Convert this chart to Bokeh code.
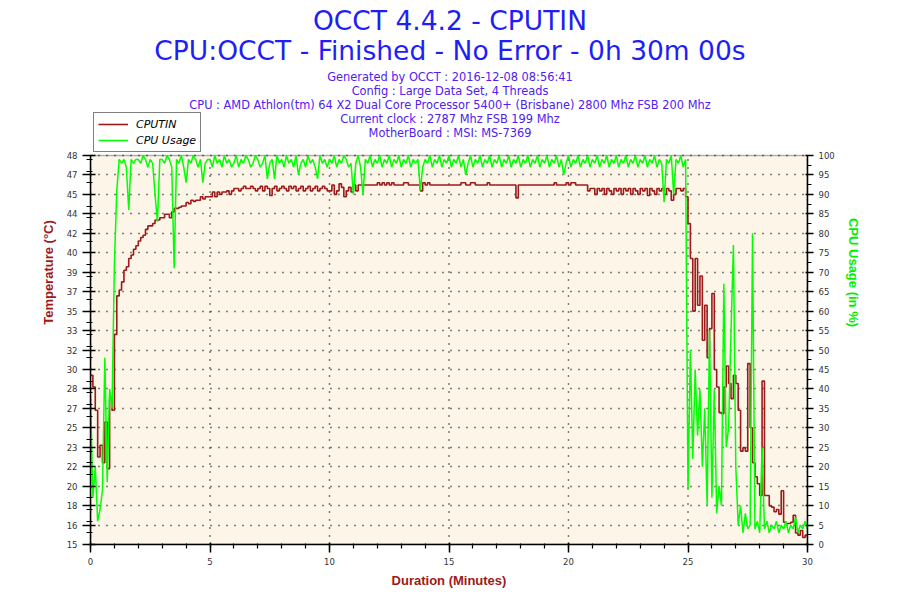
from bokeh.plotting import figure
from bokeh.models import (LinearAxis, Range1d, FixedTicker, Legend, LegendItem,
                          Label, BoxAnnotation)
from bokeh.embed import file_html
from bokeh.resources import INLINE

# ---------------- data ----------------
title_lines = ["OCCT 4.4.2 - CPUTIN",
               "CPU:OCCT - Finished - No Error - 0h 30m 00s"]
info_lines = ["Generated by OCCT : 2016-12-08 08:56:41",
              "Config : Large Data Set, 4 Threads",
              "CPU : AMD Athlon(tm) 64 X2 Dual Core Processor 5400+ (Brisbane) 2800 Mhz FSB 200 Mhz",
              "Current clock : 2787 Mhz FSB 199 Mhz",
              "MotherBoard : MSI: MS-7369"]

sample_step = 0.1  # minutes between samples
minutes = [round(i * sample_step, 1) for i in range(301)]

cputin = [
    29.5, 28.5, 26.5, 22.5, 23.5, 22.0, 25.5, 21.5, 27.5, 26.5,
    33.0, 36.3, 36.8, 37.5, 38.5, 38.8, 39.5, 39.8, 40.3, 40.6,
    41.0, 41.3, 41.5, 42.0, 42.3, 42.3, 42.5, 42.8, 42.8, 43.0,
    43.0, 43.3, 43.3, 43.0, 43.5, 43.8, 43.8, 43.9, 44.0, 44.0,
    44.3, 44.2, 44.5, 44.4, 44.5, 44.5, 44.8, 44.6, 44.8, 44.8,
    44.8, 45.2, 44.8, 45.2, 45.0, 45.2, 45.2, 45.3, 45.0, 45.3,
    45.5, 45.5, 45.3, 45.5, 45.7, 45.5, 45.5, 45.7, 45.5, 45.3,
    45.5, 45.7, 45.3, 45.7, 45.5, 44.9, 45.5, 45.7, 45.3, 45.5,
    45.7, 45.5, 45.3, 45.7, 45.5, 45.7, 45.3, 45.5, 45.7, 45.3,
    45.5, 45.7, 45.3, 45.5, 45.7, 45.3, 45.5, 45.7, 45.5, 45.3,
    45.3, 45.8, 45.0, 45.3, 45.9, 45.6, 44.8, 45.3, 45.6, 45.2,
    45.8, 45.3, 45.8, 45.8, 45.8, 45.8, 45.8, 45.8, 45.8, 45.8,
    46.0, 45.8, 46.0, 45.8, 46.0, 45.8, 46.0, 45.8, 45.8, 45.8,
    45.8, 46.0, 46.0, 45.8, 45.8, 45.8, 45.8, 45.8, 45.3, 46.0,
    45.8, 46.0, 45.8, 45.8, 45.8, 45.8, 45.8, 45.8, 45.8, 45.8,
    45.8, 45.8, 45.8, 45.8, 45.8, 46.0, 46.0, 45.8, 45.8, 46.0,
    46.0, 45.8, 45.8, 45.8, 45.8, 45.8, 46.0, 45.8, 45.8, 45.8,
    45.8, 45.8, 45.8, 45.8, 45.8, 45.8, 45.8, 45.8, 44.7, 45.8,
    45.8, 45.8, 45.8, 45.8, 45.8, 45.8, 45.8, 45.8, 45.8, 45.8,
    45.8, 45.8, 45.8, 45.8, 46.0, 45.8, 45.8, 45.8, 45.8, 46.0,
    45.8, 46.0, 46.0, 45.8, 45.8, 45.8, 45.8, 45.8, 45.3, 45.5,
    45.5, 45.0, 45.5, 45.3, 45.5, 45.0, 45.5, 45.3, 45.0, 45.5,
    45.3, 45.5, 45.0, 45.5, 45.3, 45.5, 45.0, 45.5, 45.3, 45.0,
    45.5, 45.3, 45.5, 44.9, 45.5, 45.3, 45.0, 45.5, 45.3, 45.5,
    45.0, 45.5, 45.3, 44.5, 45.0, 45.5, 45.5, 45.3, 45.5, 44.8,
    42.5, 39.5, 35.0, 39.5, 35.5, 38.0, 32.5, 35.5, 31.0, 33.5,
    36.5, 30.0, 28.5, 26.3, 26.2, 28.5, 30.3, 28.8, 27.5, 29.5,
    28.8, 26.5, 23.0, 23.3, 23.0, 30.5, 25.0, 22.0, 20.8, 20.2,
    19.2, 29.0, 19.2, 19.2, 18.3, 18.2, 17.8, 18.0, 17.6, 19.6,
    16.9, 16.8, 16.8, 16.9, 17.5, 16.0, 15.8, 16.2, 15.6, 15.8,
    15.6,
]

cpu_usage = [
    38, 12, 20, 6, 9, 14, 48, 16, 40, 35,
    72, 91, 99, 98, 99, 97, 86, 99, 98, 99,
    99, 98, 100, 99, 97, 99, 98, 90, 83, 99,
    99, 98, 100, 99, 97, 71, 99, 98, 100, 97,
    93, 99, 98, 100, 99, 97, 99, 93, 98, 99,
    99, 97, 100, 98, 99, 97, 100, 98, 99, 97,
    98, 100, 97, 99, 98, 100, 99, 97, 98, 100,
    99, 97, 98, 100, 94, 98, 99, 94, 100, 98,
    99, 97, 100, 98, 99, 97, 100, 95, 98, 99,
    97, 100, 98, 99, 97, 94, 100, 98, 99, 97,
    99, 98, 100, 97, 99, 98, 100, 99, 97, 98,
    90, 98, 100, 97, 90, 99, 98, 100, 97, 99,
    98, 100, 97, 99, 98, 100, 97, 99, 98, 100,
    97, 99, 98, 100, 97, 99, 98, 99, 91, 97,
    99, 98, 100, 97, 99, 98, 100, 97, 99, 98,
    100, 97, 99, 98, 100, 97, 99, 95, 98, 100,
    97, 99, 98, 100, 97, 99, 98, 100, 97, 99,
    98, 100, 97, 99, 98, 100, 97, 99, 98, 100,
    97, 99, 98, 100, 97, 99, 98, 100, 97, 99,
    98, 100, 97, 99, 98, 100, 97, 99, 95, 98,
    100, 97, 99, 98, 100, 97, 99, 98, 100, 97,
    99, 98, 100, 97, 99, 98, 100, 97, 99, 98,
    100, 97, 99, 98, 100, 97, 99, 98, 100, 97,
    99, 98, 100, 97, 99, 98, 100, 97, 99, 98,
    88, 99, 98, 100, 90, 99, 98, 100, 97, 99,
    14, 50, 22, 45, 28, 40, 20, 35, 10, 55,
    12, 40, 8, 15, 10, 67, 25, 30, 55, 77,
    20, 5, 10, 3, 8, 4, 5, 80, 4, 6,
    3, 25, 4, 6, 3, 5, 4, 6, 3, 5,
    4, 6, 3, 5, 4, 7, 3, 5, 4, 6,
    4,
]

x_ticks = [0, 5, 10, 15, 20, 25, 30]
x_minor = list(range(0, 31))
cpu_min, cpu_max = 0, 100
cpu_ticks = list(range(0, 101, 5))
cpu_minor = [v / 2 for v in range(0, 201, 5)]
temp_min, temp_max = 15.0, 48.33
temp_labels = ["15", "16", "18", "20", "22", "23", "25", "27", "28", "30", "32",
               "33", "35", "37", "39", "40", "42", "44", "45", "47", "48"]
temp_minor = list(range(15, 49))

# ---------------- layout ----------------
W, H = 892, 592
BORDER_L, BORDER_R, BORDER_B = 90, 85, 48
FRAME_H = H - BORDER_B          # drawing area runs up to the top of the canvas
BOX_H = 389                     # height of the chart box itself (px)
stretch = FRAME_H / BOX_H       # header area lives above the chart box

RED = "#9c1a1a"
GREEN = "#00ee00"
TITLE_BLUE = "#1e1ef5"
INFO_BLUE = "#5020f0"
CREAM = "#fcf5e8"
TICK_FONT = "DejaVu Sans"

p = figure(width=W, height=H, output_backend="svg", toolbar_location=None,
           x_range=Range1d(0, 30),
           y_range=Range1d(cpu_min, cpu_min + (cpu_max - cpu_min) * stretch),
           y_axis_location="right",
           min_border_left=BORDER_L, min_border_right=BORDER_R,
           min_border_top=0, min_border_bottom=BORDER_B,
           background_fill_color="white", border_fill_color="white")
p.outline_line_color = None
p.extra_y_ranges = {"temp": Range1d(temp_min, temp_min + (temp_max - temp_min) * stretch)}

# chart box (cream background + black frame line)
p.add_layout(BoxAnnotation(left=0, right=30, bottom=cpu_min, top=cpu_max,
                           fill_color=CREAM, fill_alpha=1.0,
                           line_color="black", line_width=1.5, level="image"))

temp_step = (temp_max - temp_min) / 20
temp_ticks = [temp_min + i * temp_step for i in range(21)]

# grid
p.xgrid.visible = False
p.ygrid.ticker = FixedTicker(ticks=cpu_ticks)
p.ygrid.grid_line_color = "black"
p.ygrid.grid_line_dash = "1 7"
p.ygrid.grid_line_width = 1.5
p.segment(x0=x_ticks, y0=[cpu_min] * len(x_ticks), x1=x_ticks, y1=[cpu_max] * len(x_ticks),
          line_color="black", line_dash="1 7", line_width=1.5, level="underlay")

r_temp = p.step(minutes, cputin, mode="after", y_range_name="temp",
                line_color=RED, line_width=1.6)
r_cpu = p.line(minutes, cpu_usage, line_color="#00ff00", line_width=1.5)

xa = p.xaxis[0]
xa.ticker = FixedTicker(ticks=x_ticks, minor_ticks=x_minor)
xa.axis_label = "Duration (Minutes)"
xa.axis_label_text_color = RED
xa.major_tick_in = 2
xa.major_tick_out = 8
xa.minor_tick_in = 1
xa.minor_tick_out = 4

ra = p.yaxis[0]
ra.ticker = FixedTicker(ticks=cpu_ticks, minor_ticks=cpu_minor)
ra.bounds = (cpu_min, cpu_max)
ra.axis_label = "CPU Usage (in %)"
ra.axis_label_text_color = GREEN
ra.major_tick_in = 2
ra.major_tick_out = 6
ra.minor_tick_in = 0
ra.minor_tick_out = 4

la = LinearAxis(y_range_name="temp",
                ticker=FixedTicker(ticks=temp_ticks, minor_ticks=temp_minor),
                bounds=(temp_min, temp_max),
                axis_label="Temperature (°C)")
la.major_label_overrides = {t: lab for t, lab in zip(temp_ticks, temp_labels)}
la.axis_label_text_color = RED
la.major_tick_in = 5
la.major_tick_out = 8
la.minor_tick_in = 2
la.minor_tick_out = 4
p.add_layout(la, "left")

for ax in (xa, ra, la):
    ax.axis_line_color = "black"
    ax.axis_line_width = 1.5
    ax.major_tick_line_color = "black"
    ax.minor_tick_line_color = "black"
    ax.major_tick_line_width = 1.5
    ax.minor_tick_line_width = 1.2
    ax.major_label_text_font = TICK_FONT
    ax.major_label_text_font_size = "8.5px"
    ax.major_label_text_color = "#333333"
    ax.major_label_standoff = 5
    ax.axis_label_text_font = "Liberation Sans"
    ax.axis_label_text_font_style = "bold"
    ax.axis_label_text_font_size = "13px"
    ax.axis_label_standoff = 8
xa.axis_label_standoff = 5

# legend (top-left, just above the chart box)
legend = Legend(items=[LegendItem(label="CPUTIN", renderers=[r_temp]),
                       LegendItem(label="CPU Usage", renderers=[r_cpu])],
                location=(3, FRAME_H - 152))
legend.label_text_font = "DejaVu Sans"
legend.label_text_font_style = "italic"
legend.label_text_font_size = "11px"
legend.label_text_color = "black"
legend.border_line_color = "black"
legend.border_line_width = 1.2
legend.background_fill_color = "white"
legend.background_fill_alpha = 1.0
legend.glyph_width = 30
legend.glyph_height = 14
legend.label_height = 14
legend.label_standoff = 8
legend.spacing = 2
legend.padding = 4
legend.margin = 0
p.add_layout(legend, "center")

# header texts (screen px measured from the bottom-left of the drawing area)
center_x = 449.5 - BORDER_L
title_page_y = [20, 50]
info_page_y = [76, 90, 104, 118, 132]
for txt, yy in zip(title_lines, title_page_y):
    p.add_layout(Label(x=center_x, y=FRAME_H - yy, x_units="screen", y_units="screen",
                       text=txt, text_align="center", text_baseline="middle",
                       text_font="DejaVu Sans", text_font_size="26.5px",
                       text_color=TITLE_BLUE))
for txt, yy in zip(info_lines, info_page_y):
    p.add_layout(Label(x=center_x, y=FRAME_H - yy, x_units="screen", y_units="screen",
                       text=txt, text_align="center", text_baseline="middle",
                       text_font="DejaVu Sans", text_font_size="11.4px",
                       text_color=INFO_BLUE))

open("out.html", "w").write(file_html(p, INLINE))
